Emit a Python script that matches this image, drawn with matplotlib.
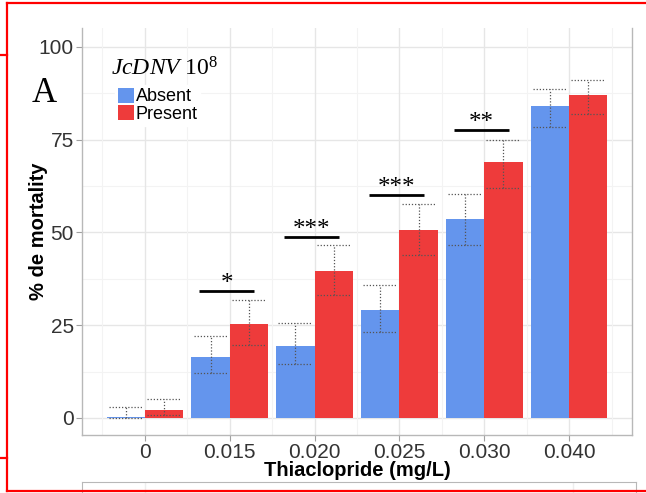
import numpy as np
import matplotlib
matplotlib.use("Agg")
import matplotlib.pyplot as plt
from matplotlib.patches import Patch
from matplotlib.lines import Line2D

plt.rcParams['font.family'] = ['Liberation Sans', 'DejaVu Sans']
plt.rcParams['mathtext.fontset'] = 'custom'
plt.rcParams['mathtext.rm'] = 'Liberation Serif'
plt.rcParams['mathtext.it'] = 'Liberation Serif:italic'

# ---------------- data
conc = ['0', '0.015', '0.020', '0.025', '0.030', '0.040']
absent = [0.3, 16.4, 19.4, 29.1, 53.6, 84.1]
absent_lo = [0.0, 12.1, 14.6, 23.2, 46.6, 78.4]
absent_hi = [3.0, 22.2, 25.6, 35.8, 60.4, 88.7]
present = [2.2, 25.3, 39.6, 50.7, 69.0, 87.1]
present_lo = [0.8, 19.7, 33.2, 43.9, 62.0, 81.9]
present_hi = [5.1, 31.8, 46.6, 57.7, 74.9, 91.1]

# significance marks: group index, line height, label
sig_idx = [1, 2, 3, 4]
sig_y = [34.2, 48.8, 60.1, 77.6]
sig_lab = ['*', '***', '***', '**']

blue = '#6495ED'
red = '#EE3B3B'

W, H = 646, 493
fig = plt.figure(figsize=(W / 100, H / 100), dpi=100)
ax = fig.add_axes([82 / W, (H - 435) / H, (632 - 82) / W, (435 - 28) / H])

x = np.arange(len(conc))
bw = 0.45

# grid (ggplot-like)
for yv in [0, 25, 50, 75, 100]:
    ax.axhline(yv, color='#E6E6E6', lw=1.0, zorder=0)
for yv in [12.5, 37.5, 62.5, 87.5]:
    ax.axhline(yv, color='#F3F3F3', lw=0.8, zorder=0)
for xv in x:
    ax.axvline(xv, color='#E6E6E6', lw=1.0, zorder=0)
for xv in np.arange(-0.5, 6, 1):
    ax.axvline(xv, color='#F3F3F3', lw=0.8, zorder=0)

ax.bar(x - bw / 2, absent, width=bw, color=blue, zorder=2)
ax.bar(x + bw / 2, present, width=bw, color=red, zorder=2)

# dotted error bars with wide caps
dot = (0, (1, 1.5))
ecol = '#555555'
for xs, lo, hi in [(x - bw / 2, absent_lo, absent_hi), (x + bw / 2, present_lo, present_hi)]:
    for xi, l, h in zip(xs, lo, hi):
        ax.plot([xi, xi], [l, h], color=ecol, lw=0.9, ls=dot, zorder=3)
        ax.plot([xi - 0.2, xi + 0.2], [h, h], color=ecol, lw=0.9, ls=dot, zorder=3)
        ax.plot([xi - 0.2, xi + 0.2], [l, l], color=ecol, lw=0.9, ls=dot, zorder=3)

for i, yv, lab in zip(sig_idx, sig_y, sig_lab):
    ax.plot([i - 0.36, i + 0.29], [yv, yv], color='black', lw=2, zorder=4, solid_capstyle='butt')
    ax.text(i - 0.03, yv + 0.3, lab, ha='center', va='baseline', fontsize=18,
            family='Liberation Serif', zorder=4)

ax.set_xlim(-0.74, 5.74)
ax.set_ylim(-4.6, 105.1)
ax.set_xticks(x)
ax.set_xticklabels(conc)
ax.set_yticks([0, 25, 50, 75, 100])
ax.tick_params(axis='both', colors='#A0A0A0', labelcolor='#333333', labelsize=15,
               length=4, width=0.8, pad=2)
for s in ['left', 'bottom', 'right']:
    ax.spines[s].set_color('#B8B8B8')
    ax.spines[s].set_linewidth(1)
ax.spines['top'].set_visible(False)

ax.set_xlabel('Thiaclopride (mg/L)', fontsize=14.5, fontweight='bold', labelpad=-1)
ax.set_ylabel('% de mortality', fontsize=14.5, fontweight='bold', labelpad=-7)

# legend
handles = [Patch(facecolor=blue, label='Absent'), Patch(facecolor=red, label='Present')]
leg = ax.legend(handles=handles, loc='upper left', bbox_to_anchor=(0.06, 0.86),
                fontsize=13, frameon=True, fancybox=False, edgecolor='white',
                framealpha=1, labelspacing=0.0, handlelength=0.9, handleheight=0.9,
                handletextpad=0.1, borderpad=0.15, borderaxespad=0)
leg.set_zorder(5)
ax.text(0.053, 0.872, r'$\mathit{JcDNV}\ 10^{8}$', transform=ax.transAxes, fontsize=17,
        ha='left', va='bottom', zorder=6)
fig.text(32 / W, (H - 102) / H, 'A', family='Liberation Serif', fontsize=25,
         ha='left', va='baseline')

# top edge of the next panel
ax2 = fig.add_axes([82 / W, -0.1, (636 - 82) / W, 0.1 + (H - 482) / H])
ax2.set_xlim(-0.74, 5.74)
ax2.set_xticks([])
ax2.set_yticks([])
for s in ax2.spines.values():
    s.set_color('#B8B8B8')
ax2.axvline(0, color='#EEEEEE', lw=1)
ax2.axvline(5, color='#EEEEEE', lw=1)

# red annotation frame
rc = '#FF0000'
fig.add_artist(Line2D([7 / W, 1], [(H - 3) / H, (H - 3) / H], color=rc, lw=1.6))
fig.add_artist(Line2D([7 / W, 7 / W], [(H - 3) / H, (H - 491) / H], color=rc, lw=1.6))
fig.add_artist(Line2D([7 / W, 1], [(H - 491) / H, (H - 491) / H], color=rc, lw=1.6))
fig.add_artist(Line2D([0, 7 / W], [(H - 55) / H, (H - 55) / H], color=rc, lw=1.6))
fig.add_artist(Line2D([0, 7 / W], [(H - 458) / H, (H - 458) / H], color=rc, lw=1.6))

fig.savefig('out.png', dpi=100)
